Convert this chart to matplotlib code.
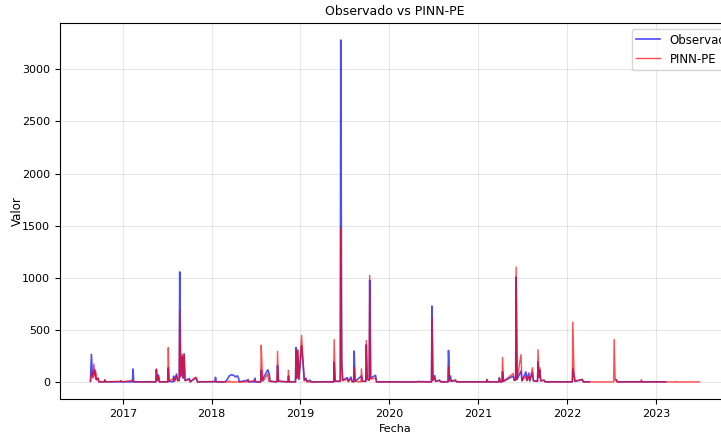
import matplotlib
matplotlib.use("Agg")
import matplotlib.pyplot as plt
import matplotlib.dates as mdates
import numpy as np
import pandas as pd

obs_points = [
    ("2016-08-21", 10), ("2016-08-25", 268), ("2016-08-29", 60), ("2016-09-08", 120),
    ("2016-09-12", 30), ("2016-09-21", 40), ("2016-09-25", 5), ("2016-10-17", 5),
    ("2016-10-19", 20), ("2016-10-22", 5), ("2016-12-22", 5), ("2016-12-24", 15),
    ("2016-12-27", 5), ("2017-02-10", 5), ("2017-02-12", 128), ("2017-02-15", 5),
    ("2017-05-17", 5), ("2017-05-19", 125), ("2017-05-23", 20), ("2017-05-28", 70),
    ("2017-06-01", 5), ("2017-07-05", 5), ("2017-07-07", 140), ("2017-07-10", 10),
    ("2017-07-27", 5), ("2017-07-29", 60), ("2017-08-02", 15), ("2017-08-10", 80),
    ("2017-08-14", 20), ("2017-08-21", 20), ("2017-08-23", 1058), ("2017-08-27", 60),
    ("2017-09-02", 250), ("2017-09-06", 40), ("2017-09-10", 275), ("2017-09-14", 20),
    ("2017-10-02", 35), ("2017-10-05", 5), ("2017-10-27", 40), ("2017-10-31", 30),
    ("2017-11-04", 5), ("2018-01-15", 5), ("2018-01-17", 48), ("2018-01-20", 5),
    ("2018-02-27", 5), ("2018-03-07", 30), ("2018-03-15", 62), ("2018-03-23", 72),
    ("2018-04-01", 68), ("2018-04-09", 52), ("2018-04-17", 62), ("2018-04-21", 45),
    ("2018-04-25", 5), ("2018-05-31", 20), ("2018-06-03", 5), ("2018-06-26", 5),
    ("2018-06-28", 40), ("2018-07-01", 5), ("2018-07-22", 5), ("2018-07-24", 115),
    ("2018-07-28", 20), ("2018-08-20", 120), ("2018-08-26", 80), ("2018-08-30", 10),
    ("2018-09-27", 5), ("2018-09-29", 160), ("2018-10-03", 10), ("2018-11-11", 5),
    ("2018-11-13", 60), ("2018-11-16", 5), ("2018-12-12", 5), ("2018-12-14", 333),
    ("2018-12-17", 40), ("2018-12-21", 310), ("2018-12-26", 30), ("2019-01-06", 350),
    ("2019-01-13", 160), ("2019-01-17", 20), ("2019-01-24", 40), ("2019-01-28", 10),
    ("2019-02-10", 20), ("2019-02-14", 5), ("2019-05-18", 5), ("2019-05-20", 195),
    ("2019-05-24", 10), ("2019-06-14", 10), ("2019-06-16", 3280), ("2019-06-20", 200),
    ("2019-06-24", 20), ("2019-07-13", 45), ("2019-07-17", 10), ("2019-07-28", 50),
    ("2019-08-01", 10), ("2019-08-08", 5), ("2019-08-10", 300), ("2019-08-14", 10),
    ("2019-09-09", 60), ("2019-09-13", 10), ("2019-09-27", 10), ("2019-09-29", 360),
    ("2019-10-03", 30), ("2019-10-11", 20), ("2019-10-13", 978), ("2019-10-17", 40),
    ("2019-11-06", 67), ("2019-11-10", 5), ("2020-04-25", 4), ("2020-04-27", 8),
    ("2020-06-23", 4), ("2020-06-25", 730), ("2020-06-29", 20), ("2020-07-06", 65),
    ("2020-07-10", 10), ("2020-07-26", 20), ("2020-07-30", 5), ("2020-08-30", 5),
    ("2020-09-01", 305), ("2020-09-05", 20), ("2020-09-09", 60), ("2020-09-13", 10),
    ("2020-09-30", 15), ("2020-10-04", 5), ("2021-02-04", 5), ("2021-02-06", 20),
    ("2021-02-09", 5), ("2021-03-27", 5), ("2021-03-29", 40), ("2021-04-02", 5),
    ("2021-04-09", 5), ("2021-04-11", 100), ("2021-04-15", 10), ("2021-05-25", 60),
    ("2021-05-29", 20), ("2021-06-04", 20), ("2021-06-06", 1010), ("2021-06-10", 30),
    ("2021-06-26", 108), ("2021-06-30", 15), ("2021-07-16", 100), ("2021-07-20", 20),
    ("2021-07-28", 88), ("2021-08-01", 15), ("2021-08-12", 90), ("2021-08-16", 15),
    ("2021-09-02", 10), ("2021-09-04", 195), ("2021-09-08", 50), ("2021-09-11", 120),
    ("2021-09-15", 15), ("2021-09-29", 20), ("2021-10-03", 5), ("2022-01-23", 5),
    ("2022-01-25", 130), ("2022-01-30", 60), ("2022-02-03", 10), ("2022-03-05", 25),
    ("2022-03-09", 5), ("2022-04-03", 5), ("2022-05-20", np.nan), ("2022-07-24", 20),
    ("2022-07-28", 5), ("2022-11-01", 5), ("2022-11-03", 10), ("2022-11-06", 5),
    ("2023-02-11", 5),
]

# PINN-PE prediction: (date, value)
pinn_points = [
    ("2016-08-21", 10), ("2016-08-27", 90), ("2016-08-31", 40), ("2016-09-04", 175),
    ("2016-09-08", 60), ("2016-09-12", 100), ("2016-09-16", 20), ("2016-09-21", 40),
    ("2016-09-25", 5), ("2016-10-17", 5), ("2016-10-19", 25), ("2016-10-22", 5),
    ("2016-12-24", 10), ("2016-12-27", 4), ("2017-02-12", 20), ("2017-02-15", 4),
    ("2017-05-17", 4), ("2017-05-19", 125), ("2017-05-23", 20), ("2017-05-26", 60),
    ("2017-05-30", 4), ("2017-07-05", 4), ("2017-07-07", 333), ("2017-07-10", 10),
    ("2017-07-29", 40), ("2017-08-02", 10), ("2017-08-10", 60), ("2017-08-14", 15),
    ("2017-08-21", 15), ("2017-08-23", 690), ("2017-08-27", 50), ("2017-09-02", 270),
    ("2017-09-06", 40), ("2017-09-10", 260), ("2017-09-14", 15), ("2017-10-02", 25),
    ("2017-10-05", 4), ("2017-10-27", 50), ("2017-10-31", 45), ("2017-11-04", 4),
    ("2018-01-17", 10), ("2018-01-20", 4), ("2018-03-13", 4), ("2018-03-15", 15),
    ("2018-03-19", 4), ("2018-05-29", 4), ("2018-05-31", 30), ("2018-06-03", 4),
    ("2018-06-28", 20), ("2018-07-01", 4), ("2018-07-22", 4), ("2018-07-24", 355),
    ("2018-07-28", 120), ("2018-08-01", 10), ("2018-08-20", 80), ("2018-08-24", 10),
    ("2018-09-27", 4), ("2018-09-29", 297), ("2018-10-03", 10), ("2018-11-11", 4),
    ("2018-11-13", 115), ("2018-11-16", 4), ("2018-12-12", 4), ("2018-12-14", 305),
    ("2018-12-17", 40), ("2018-12-21", 300), ("2018-12-26", 30), ("2019-01-06", 450),
    ("2019-01-13", 150), ("2019-01-17", 15), ("2019-01-24", 30), ("2019-01-28", 4),
    ("2019-05-18", 4), ("2019-05-20", 410), ("2019-05-24", 10), ("2019-06-14", 10),
    ("2019-06-16", 1476), ("2019-06-20", 150), ("2019-06-24", 15), ("2019-07-13", 30),
    ("2019-07-17", 5), ("2019-07-28", 35), ("2019-08-01", 5), ("2019-08-08", 4),
    ("2019-08-10", 147), ("2019-08-14", 10), ("2019-09-07", 4), ("2019-09-09", 130),
    ("2019-09-13", 10), ("2019-09-27", 10), ("2019-09-29", 400), ("2019-10-03", 30),
    ("2019-10-11", 20), ("2019-10-13", 1025), ("2019-10-17", 30), ("2019-11-06", 40),
    ("2019-11-10", 4), ("2020-06-23", 4), ("2020-06-25", 626), ("2020-06-29", 15),
    ("2020-07-06", 50), ("2020-07-10", 8), ("2020-07-26", 20), ("2020-07-30", 4),
    ("2020-08-30", 4), ("2020-09-01", 150), ("2020-09-05", 10), ("2020-09-30", 25),
    ("2020-10-04", 4), ("2021-02-04", 4), ("2021-02-06", 30), ("2021-02-09", 4),
    ("2021-03-27", 4), ("2021-03-29", 45), ("2021-04-02", 5), ("2021-04-09", 5),
    ("2021-04-11", 237), ("2021-04-15", 10), ("2021-05-25", 85), ("2021-05-29", 20),
    ("2021-06-04", 20), ("2021-06-06", 1105), ("2021-06-10", 30), ("2021-06-26", 265),
    ("2021-06-30", 15), ("2021-07-16", 60), ("2021-07-20", 15), ("2021-07-28", 50),
    ("2021-08-01", 15), ("2021-08-12", 140), ("2021-08-16", 15), ("2021-09-02", 10),
    ("2021-09-04", 313), ("2021-09-08", 50), ("2021-09-11", 140), ("2021-09-15", 15),
    ("2021-09-29", 20), ("2021-10-03", 4), ("2022-01-23", 4), ("2022-01-25", 578),
    ("2022-01-30", 80), ("2022-02-03", 10), ("2022-03-05", 30), ("2022-03-09", 4),
    ("2022-07-12", 4), ("2022-07-14", 410), ("2022-07-18", 20), ("2022-07-21", 30),
    ("2022-07-25", 4), ("2022-11-01", 4), ("2022-11-03", 25), ("2022-11-06", 4),
    ("2023-03-25", 4), ("2023-03-27", 8), ("2023-03-30", 4), ("2023-06-30", 4),
]

obs_dates = pd.to_datetime([d for d, _ in obs_points])
obs_vals = np.array([v for _, v in obs_points], dtype=float)
pinn_dates = pd.to_datetime([d for d, _ in pinn_points])
pinn_vals = np.array([v for _, v in pinn_points], dtype=float)

fig = plt.figure(figsize=(7.21, 4.33), dpi=100)
# the reference is cropped on the right, so the axes runs past the figure edge
ax = fig.add_axes([60 / 721, 34 / 433, 670 / 721, 376 / 433])

ax.plot(obs_dates, obs_vals, color="blue", alpha=0.7, lw=1.2, label="Observado")
ax.plot(pinn_dates, pinn_vals, color="red", alpha=0.7, lw=1.0, label="PINN-PE")

ax.set_title("Observado vs PINN-PE", fontsize=9)
ax.set_xlabel("Fecha", fontsize=8)
ax.set_ylabel("Valor", fontsize=8.5, labelpad=-1)
ax.tick_params(labelsize=8)
ax.xaxis.set_major_locator(mdates.YearLocator())
ax.xaxis.set_major_formatter(mdates.DateFormatter("%Y"))
ax.grid(True, alpha=0.3)
ax.legend(loc="upper right", bbox_to_anchor=(1.021, 1.0), fontsize=8.5)

fig.savefig("out.png", dpi=100)
